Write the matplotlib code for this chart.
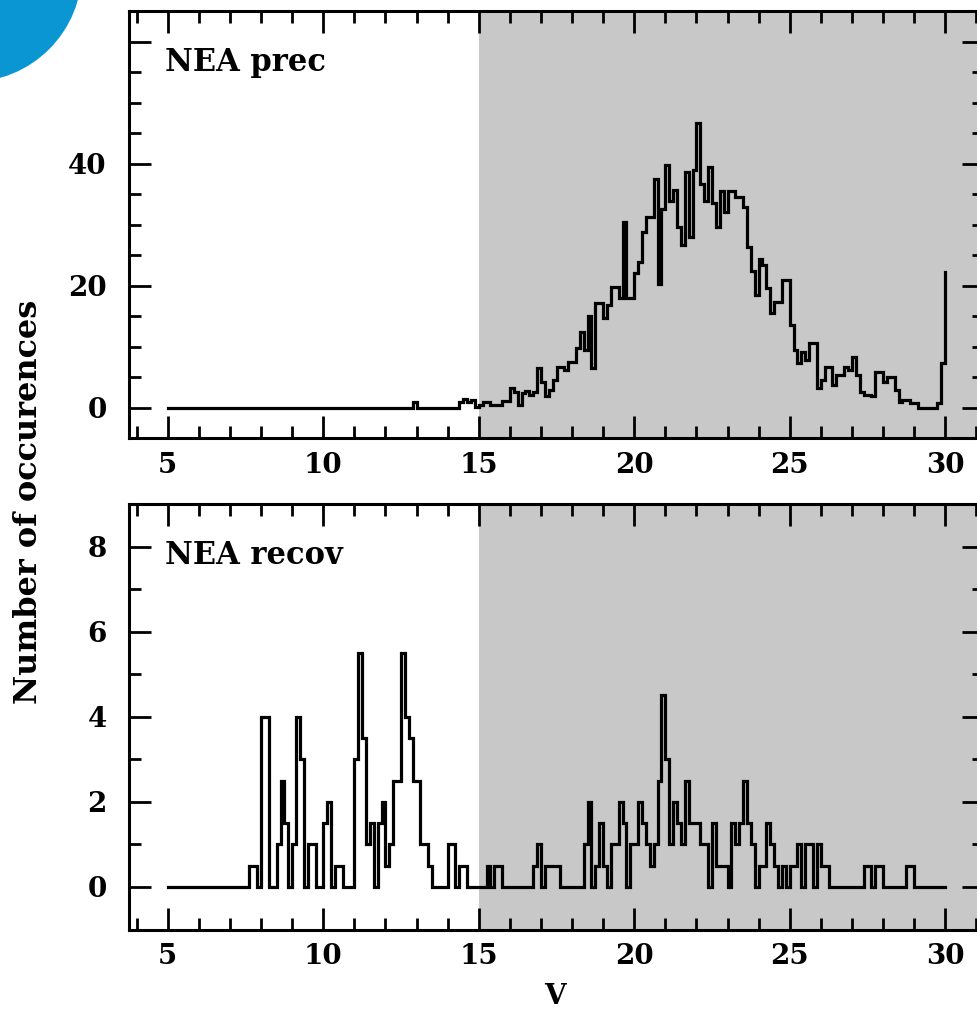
import matplotlib
matplotlib.use("Agg")
import matplotlib.pyplot as plt
import numpy as np
from matplotlib.patches import Ellipse
from matplotlib.ticker import MultipleLocator

# ---------------- data ----------------
bin_width = 0.125
v_start, v_stop = 5.0, 30.0

# upper panel: NEA prec (one row per magnitude unit, 8 bins each)
prec_counts = [
    0, 0, 0, 0, 0, 0, 0, 0,            # 5
    0, 0, 0, 0, 0, 0, 0, 0,            # 6
    0, 0, 0, 0, 0, 0, 0, 0,            # 7
    0, 0, 0, 0, 0, 0, 0, 0,            # 8
    0, 0, 0, 0, 0, 0, 0, 0,            # 9
    0, 0, 0, 0, 0, 0, 0, 0,            # 10
    0, 0, 0, 0, 0, 0, 0, 0,            # 11
    0, 0, 0, 0, 0, 0, 0, 1,            # 12
    0, 0, 0, 0, 0, 0, 0, 0,            # 13
    0, 0, 0, 1.0, 1.5, 1.0, 1.3, 0.2,  # 14
    0.5, 1.0, 1.0, 0.5, 0.5, 0.5, 1.1, 1.1,   # 15
    3.3, 2.7, 0.5, 2.4, 2.8, 2.2, 2.6, 6.5,   # 16
    4.3, 1.9, 3.0, 4.6, 6.8, 6.8, 6.2, 7.6,   # 17
    7.6, 9.8, 12.5, 9.5, 15.1, 6.5, 17.2, 17.2,  # 18
    14.7, 16.9, 19.9, 19.9, 18, 30.5, 18, 18,    # 19
    22.1, 24, 28.9, 31.3, 31.3, 37.6, 20.4, 32.7,  # 20
    39.8, 34, 35.7, 29.7, 26.7, 38.7, 28.1, 39,    # 21
    46.7, 36.8, 34, 39.5, 33.6, 29.7, 35.5, 32.2,  # 22
    35.5, 35.5, 34.6, 34.6, 33, 26.4, 22.4, 18.5,  # 23
    24.5, 23.4, 19.6, 15.5, 17.4, 17.4, 21, 21,    # 24
    13.6, 9.5, 7.3, 9.2, 7.9, 10.6, 10.6, 3.2,     # 25
    4.6, 6.8, 6.8, 3.8, 5.4, 5.4, 6.8, 6.2,        # 26
    8.4, 5.4, 2.7, 2.1, 2.1, 1.9, 5.9, 5.9,        # 27
    4.3, 5.1, 5.1, 2.9, 1.0, 1.3, 1.3, 0.8,        # 28
    0.8, 0, 0, 0, 0, 0, 0.9, 7.3,                  # 29
]
prec_last = 22.3   # final bin at V = 30

# lower panel: NEA recov
recov_counts = [
    0, 0, 0, 0, 0, 0, 0, 0,                 # 5
    0, 0, 0, 0, 0, 0, 0, 0,                 # 6
    0, 0, 0, 0, 0, 0.5, 0.5, 0,             # 7
    4, 4, 0, 0, 1, 2.5, 1.5, 0,             # 8
    1, 4, 3, 0, 1, 1, 0, 0,                 # 9
    1.5, 2, 0, 0.5, 0.5, 0, 0, 0,           # 10
    3, 5.5, 3.5, 1, 1.5, 0, 1.5, 2,         # 11
    0.5, 1, 2.5, 2.5, 5.5, 4, 3.5, 2.5,     # 12
    2.5, 1, 1, 0.5, 0, 0, 0, 0,             # 13
    1, 1, 0, 0.5, 0.5, 0, 0, 0,             # 14
    0, 0, 0.5, 0, 0.5, 0.5, 0, 0,           # 15
    0, 0, 0, 0, 0, 0, 0.5, 1,               # 16
    0, 0.5, 0.5, 0.5, 0.5, 0, 0, 0,         # 17
    0, 0, 0, 1, 2, 0, 0.5, 1.5,             # 18
    0.5, 0, 1, 1, 2, 1.5, 0, 1,             # 19
    1, 2, 1.5, 1, 0.5, 1, 2.5, 4.5,         # 20
    3, 1, 2, 1.5, 1, 2.5, 1.5, 1.5,         # 21
    1.5, 1, 1, 0, 1.5, 0.5, 0.5, 0.5,       # 22
    0, 1.5, 1, 1.5, 2.5, 1.5, 1, 0,         # 23
    0.5, 0.5, 1.5, 1, 0.5, 0, 0.5, 0,       # 24
    0.5, 0.5, 1, 0, 1, 1, 0, 1,             # 25
    0.5, 0.5, 0, 0, 0, 0, 0, 0,             # 26
    0, 0, 0, 0.5, 0.5, 0, 0.5, 0.5,         # 27
    0, 0, 0, 0, 0, 0, 0.5, 0.5,             # 28
    0, 0, 0, 0, 0, 0, 0, 0,                 # 29
]

panel_labels = ["NEA prec", "NEA recov"]
x_label = "V"
y_label = "Number of occurences"
x_ticks = [5, 10, 15, 20, 25, 30]
prec_yticks = [0, 20, 40, 60]
prec_yticklabels = ["0", "20", "40", ""]
recov_yticks = [0, 2, 4, 6, 8]
recov_yticklabels = ["0", "2", "4", "6", "8"]
shade_from = 15

# ---------------- figure ----------------
W, H = 977, 1013
fig = plt.figure(figsize=(W / 100, H / 100), dpi=100)
fig.patch.set_facecolor("white")

serif = ["DejaVu Serif"]

ax1 = fig.add_axes([129 / W, 1 - 438.5 / H, 855 / W, 427 / H])
ax2 = fig.add_axes([129 / W, 1 - 929.5 / H, 855 / W, 425.5 / H])

edges = np.arange(v_start, v_stop + bin_width / 2, bin_width)

series = [
    (ax1, prec_counts + [prec_last], (-5, 65), prec_yticks, prec_yticklabels, 5),
    (ax2, recov_counts + [recov_counts[-1]], (-1, 9), recov_yticks, recov_yticklabels, 1),
]

for (ax, yvals, ylim, yt, ytl, yminor), lab in zip(series, panel_labels):
    ax.set_xlim(3.75, 31.25)
    ax.set_ylim(*ylim)
    ax.axvspan(shade_from, 31.25, color="#c8c8c8", lw=0, zorder=0)
    ax.plot(edges, yvals, drawstyle="steps-post", color="black", lw=2.3,
            solid_joinstyle="miter", zorder=3)
    ax.set_xticks(x_ticks)
    ax.set_xticklabels([str(t) for t in x_ticks])
    ax.xaxis.set_minor_locator(MultipleLocator(1))
    ax.set_yticks(yt)
    ax.set_yticklabels(ytl)
    ax.yaxis.set_minor_locator(MultipleLocator(yminor))
    ax.tick_params(which="both", direction="in", top=True, right=True,
                   width=2.0, color="black")
    ax.tick_params(which="major", length=16, labelsize=20)
    ax.tick_params(axis="x", which="major", pad=10)
    ax.tick_params(axis="y", which="major", pad=16)
    ax.tick_params(which="minor", length=8.5)
    for t in ax.get_xticklabels() + ax.get_yticklabels():
        t.set_family(serif)
        t.set_fontweight("bold")
    for sp in ax.spines.values():
        sp.set_linewidth(2.2)
    ax.text(0.042, 0.88, lab, transform=ax.transAxes, ha="left", va="center",
            fontsize=22, fontweight="bold", family=serif)

fig.text(29 / W, 1 - 502 / H, y_label, rotation=90, ha="center", va="center",
         fontsize=23, fontweight="bold", family=serif)
fig.text(555 / W, 3 / H, x_label, ha="center", va="bottom",
         fontsize=20, fontweight="bold", family=serif)

# decorative blue disc in the top-left corner
fig.patches.append(Ellipse((-30 / W, 1 + 30 / H), 224 / W, 224 / H,
                           transform=fig.transFigure, facecolor="#0a96d2",
                           edgecolor="none", zorder=10))

fig.savefig("out.png", dpi=100)
